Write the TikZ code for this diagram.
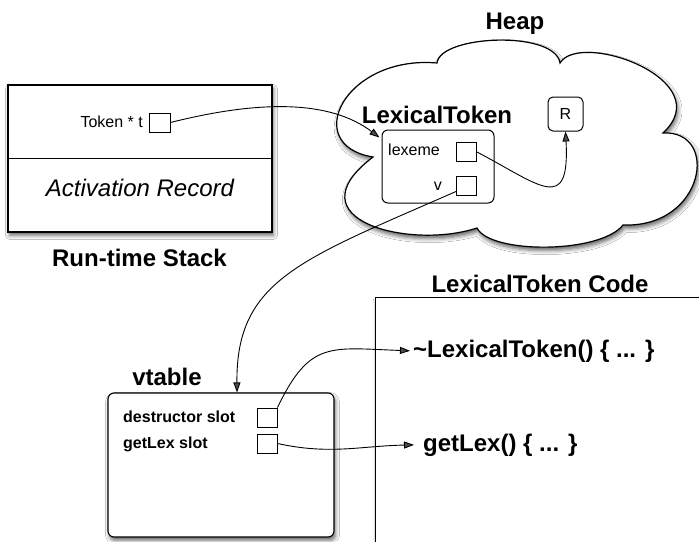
\documentclass[tikz,border=0pt]{standalone}
\usepackage{fontspec}
\setmainfont{Liberation Sans}
\usetikzlibrary{arrows.meta,shadows.blur,calc}

\begin{document}
\begin{tikzpicture}[x=1pt,y=-1pt,
  every node/.style={font=\fontsize{16}{19}\selectfont, inner sep=0pt},
  big/.style={font=\bfseries\fontsize{24}{28}\selectfont},
  slot/.style={draw, line width=0.9pt, fill=white, minimum width=20pt, minimum height=19pt},
  soft/.style={blur shadow={shadow xshift=1.5pt, shadow yshift=-3.5pt, shadow blur radius=4pt, shadow opacity=60}},
  panel/.style={draw, line width=1.1pt, fill=white, soft},
  ptr/.style={line width=0.9pt, -{Triangle[length=10pt,width=7pt]}},
]
\useasboundingbox (0,0) rectangle (699,541);
\fill[white] (0,0) rectangle (699,541);

% ---------------- heap cloud ----------------
\path[draw, line width=1.2pt, fill=white, soft]
  (373,157) .. controls (300,145) and (345,55) .. (437,63)
            .. controls (440,35) and (555,30) .. (560,63)
            .. controls (580,30) and (720,80) .. (663,133)
            .. controls (720,130) and (705,228) .. (623,225)
            .. controls (600,254) and (490,254) .. (477,228)
            .. controls (410,250) and (290,220) .. cycle;
\node[big, anchor=base] (heap) at (515,29) {Heap};

% object in the heap
\node[big, anchor=base] (lexlbl) at (437,123) {LexicalToken};
\node[draw, line width=1pt, rounded corners=6pt, minimum width=112pt, minimum height=73pt] (lexbox) at (438,166.5) {};
\node[anchor=west] (lexeme) at (388,150) {lexeme};
\node[slot] (lexsq) at (466.5,152) {};
\node[anchor=east] (vlbl) at (442,186) {v};
\node[slot] (vsq) at (466.5,185.5) {};
\node[draw, line width=1pt, rounded corners=5pt, minimum width=35pt, minimum height=34pt, font=\fontsize{16}{18}\selectfont] (rbox) at (565.5,114) {R};

% ---------------- run-time stack ----------------
\node[panel, minimum width=264pt, minimum height=147pt] (stack) at (140,158.5) {};
\draw[line width=1.1pt] (stack.west) -- (stack.east);
\node[anchor=east] (toklbl) at (143,122) {Token * t};
\node[slot, minimum width=21pt] (tokptr) at (159.5,122.5) {};
\node[font=\itshape\fontsize{24}{28}\selectfont] (act) at (140,188) {Activation Record};
\node[big] (stacklbl) at (139.5,258) {Run-time Stack};

% ---------------- vtable ----------------
\node[big, anchor=base] (vtlbl) at (167,385) {vtable};
\node[panel, rounded corners=6pt, minimum width=226pt, minimum height=144pt] (vtable) at (221,465) {};
\node[anchor=base west, font=\bfseries\fontsize{16}{19}\selectfont] (dslot) at (123,422.5) {destructor slot};
\node[anchor=base west, font=\bfseries\fontsize{16}{19}\selectfont] (gslot) at (123,448.5) {getLex slot};
\node[slot] (dsq) at (267,417.5) {};
\node[slot] (gsq) at (267,443.5) {};

% ---------------- code area ----------------
\node[big, anchor=base] (codelbl) at (540,292) {LexicalToken Code};
\node[panel, anchor=north west, minimum width=360pt, minimum height=270pt] (code) at (375,297) {};
\node[big, anchor=base west] (dtor) at (413,357) {\char"007ELexicalToken() \{ ... \}};
\node[big, anchor=base west] (getlex) at (423,451) {getLex() \{ ... \}};

% ---------------- pointers ----------------
\draw[ptr] (tokptr.east) .. controls (260,100) and (330,100) .. ($(lexbox.north west)+(-2,8)$);
\draw[ptr] (lexsq.east) .. controls (540,185) and (570,215) .. (rbox.south);
\draw[ptr] ($(vsq.south west)+(0,-4)$) .. controls (300,260) and (236,280) .. ($(vtable.north)+(16,0)$);
\draw[ptr] (dsq.north east) .. controls (310,340) and (330,348) .. ($(dtor.west)+(-3,0)$);
\draw[ptr] (gsq.east) .. controls (330,455) and (360,446) .. ($(getlex.west)+(-9,0)$);
\end{tikzpicture}
\end{document}
